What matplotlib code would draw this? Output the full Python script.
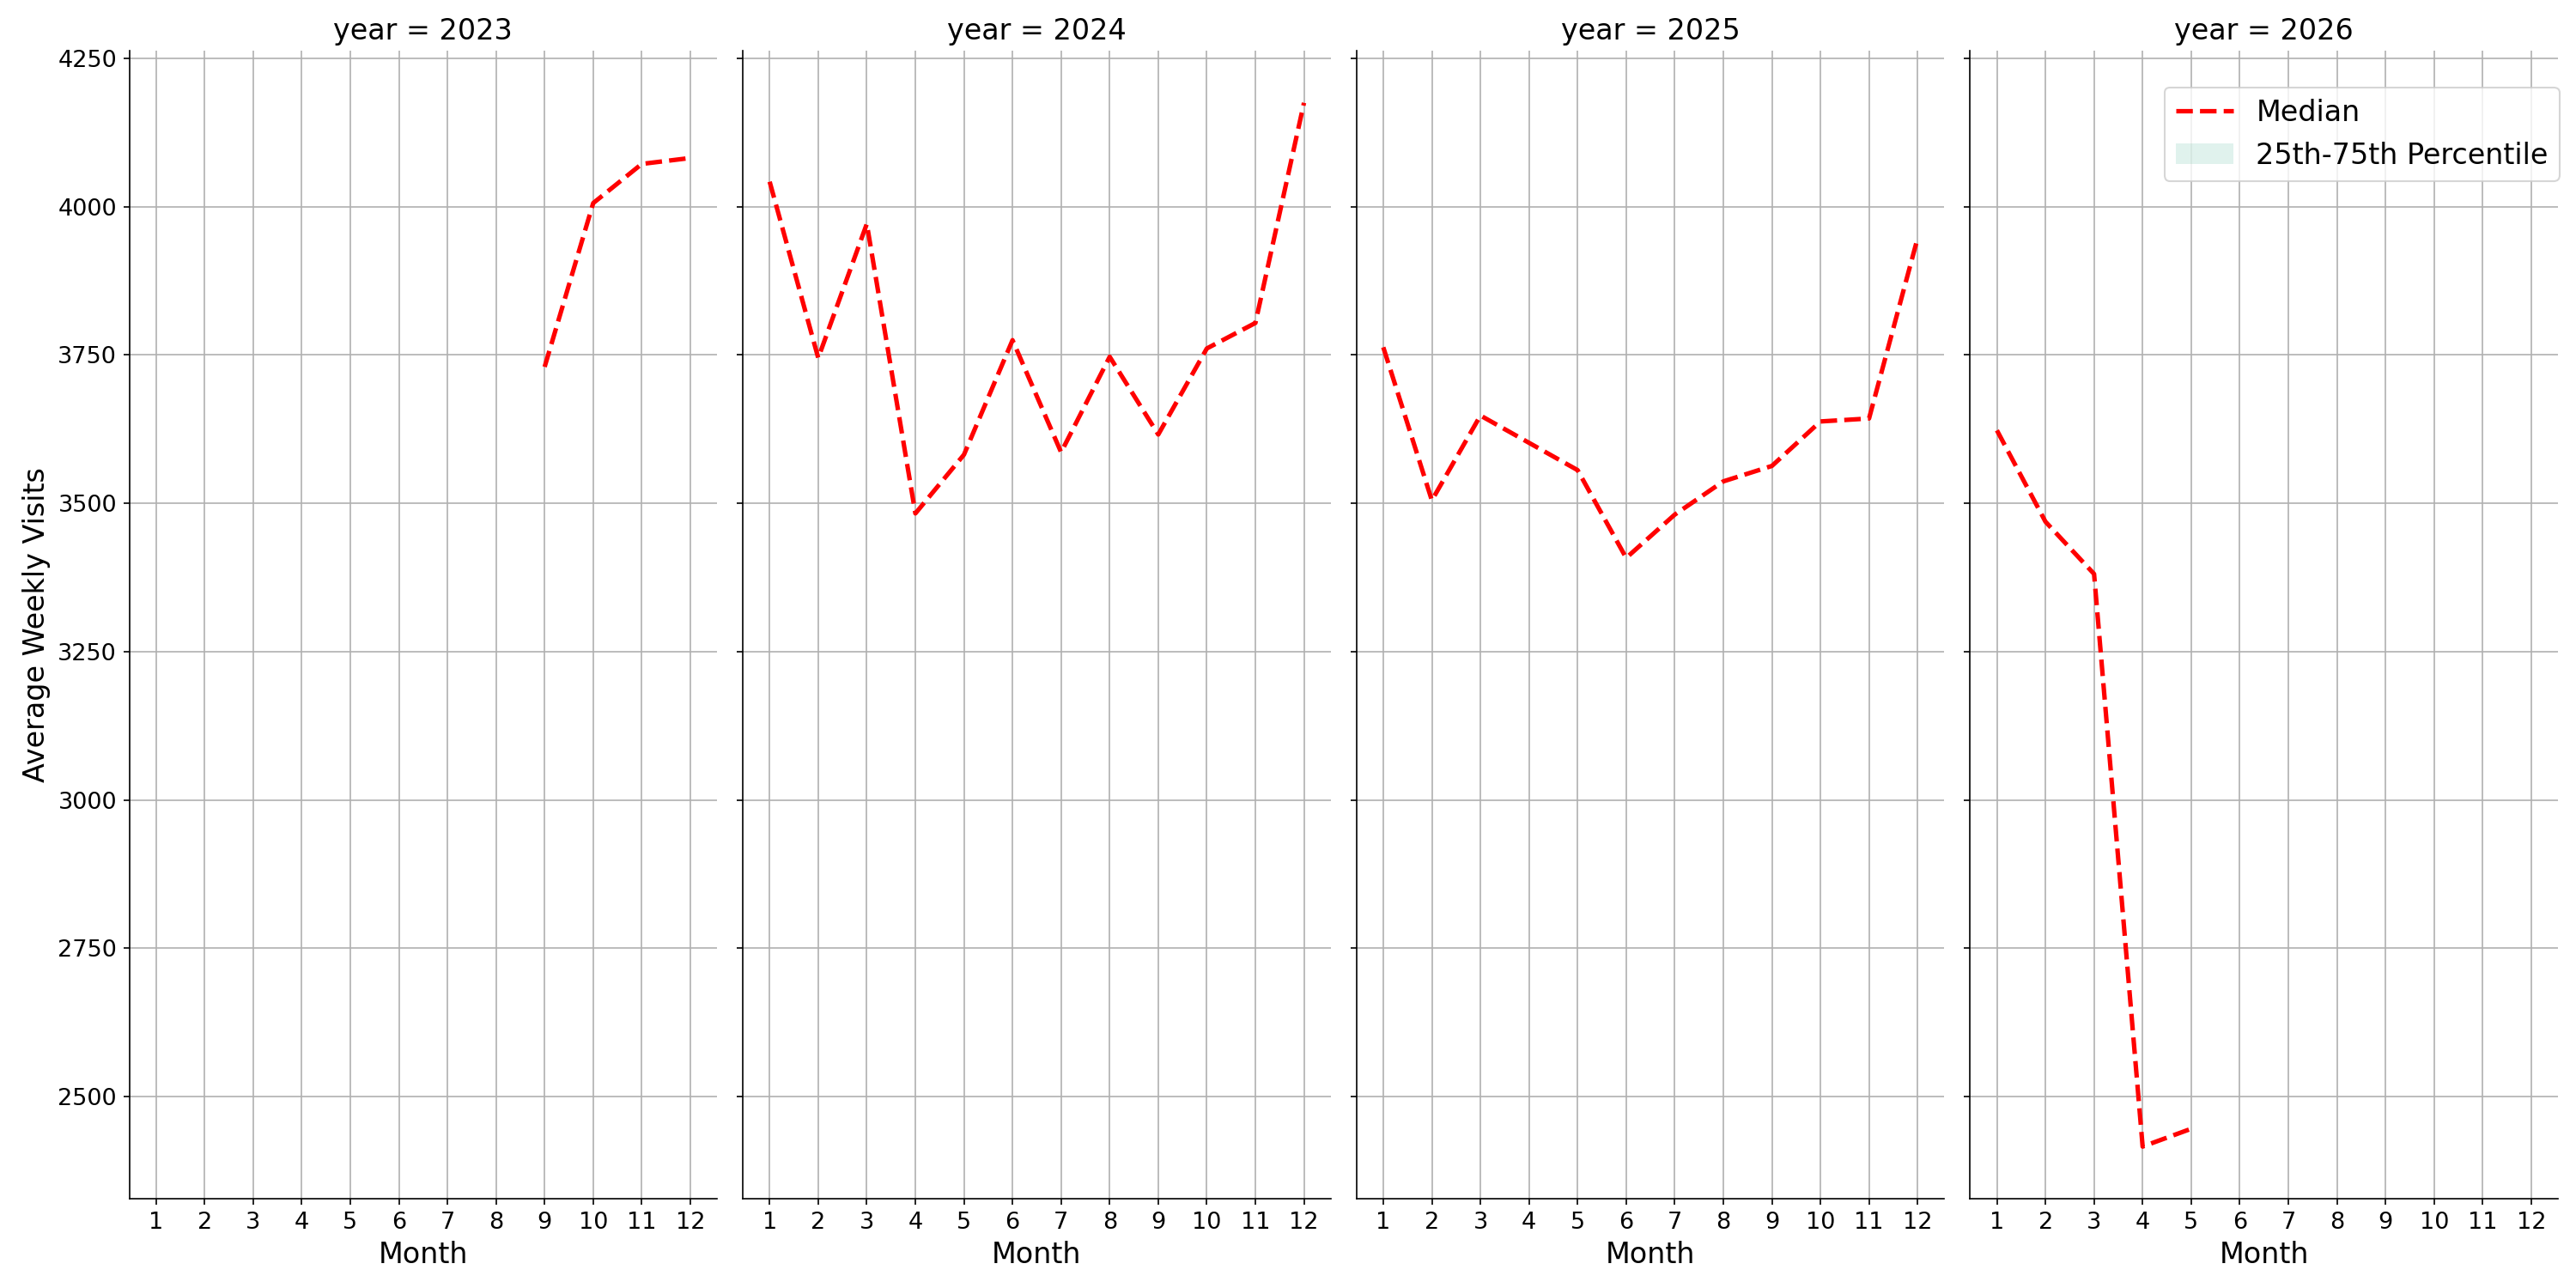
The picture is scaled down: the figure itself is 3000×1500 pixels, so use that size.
import matplotlib
matplotlib.use("Agg")
import matplotlib.pyplot as plt
from matplotlib.patches import Patch

# Median of average weekly visits per month, one panel per year
years = [2023, 2024, 2025, 2026]

months_2023 = [9, 10, 11, 12]
median_2023 = [3730, 4006, 4072, 4082]

months_2024 = list(range(1, 13))
median_2024 = [4042, 3745, 3971, 3483, 3582, 3775, 3586, 3747, 3616, 3761, 3804, 4175]

months_2025 = list(range(1, 13))
median_2025 = [3763, 3505, 3648, 3602, 3556, 3408, 3481, 3537, 3563, 3638, 3643, 3947]

months_2026 = [1, 2, 3, 4, 5]
median_2026 = [3623, 3469, 3381, 2416, 2446]

month_ticks = list(range(1, 13))

series = {
    2023: (months_2023, median_2023),
    2024: (months_2024, median_2024),
    2025: (months_2025, median_2025),
    2026: (months_2026, median_2026),
}

fig, axes = plt.subplots(1, 4, figsize=(20, 10), sharex=True, sharey=True)
fig.subplots_adjust(left=0.0502, right=0.993, bottom=0.0693, top=0.9607, wspace=0.044)

for ax, year in zip(axes, years):
    months, med = series[year]
    ax.plot(months, med, color="red", linestyle="--", linewidth=2.5, label="Median")
    ax.set_title(f"year = {year}", fontsize=16)
    ax.set_xlabel("Month", fontsize=16)
    ax.set_xticks(month_ticks)
    ax.tick_params(labelsize=13)
    ax.grid(True)
    ax.spines["top"].set_visible(False)
    ax.spines["right"].set_visible(False)

axes[0].set_ylabel("Average Weekly Visits", fontsize=16)

# the percentile band has no visible width, only its legend entry shows
band = Patch(facecolor="#66c2a5", alpha=0.2, label="25th-75th Percentile")
line = axes[-1].get_lines()[0]
axes[-1].legend(handles=[line, band], loc="upper right", fontsize=16,
                bbox_to_anchor=(1.003, 0.968), borderaxespad=0)

fig.savefig("out.png", dpi=150)
plt.close(fig)
